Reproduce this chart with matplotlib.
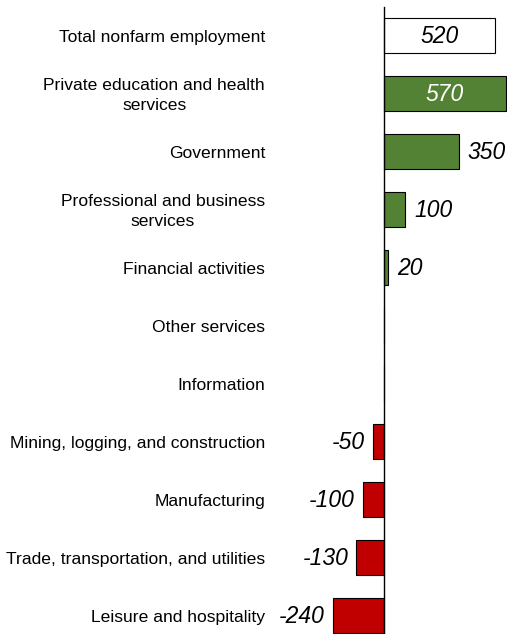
import matplotlib
matplotlib.use('Agg')
import matplotlib.pyplot as plt
from matplotlib.transforms import offset_copy

plt.rcParams['font.family'] = ['Liberation Sans', 'DejaVu Sans']

categories = ['Total nonfarm employment',
              'Private education and health\nservices',
              'Government',
              'Professional and business\nservices',
              'Financial activities',
              'Other services',
              'Information',
              'Mining, logging, and construction',
              'Manufacturing',
              'Trade, transportation, and utilities',
              'Leisure and hospitality']
values = [520, 570, 350, 100, 20, 0, 0, -50, -100, -130, -240]
show_label = [True, True, True, True, True, False, False, True, True, True, True]

green = '#548235'
red = '#C00000'

fig = plt.figure(figsize=(5.07, 6.34), dpi=100)
ax = fig.add_axes([0, 0, 1, 1])

y = list(range(len(values)))
colors = []
for i, v in enumerate(values):
    if i == 0:
        colors.append('white')
    elif v >= 0:
        colors.append(green)
    else:
        colors.append(red)

ax.barh(y, values, height=0.6, color=colors, edgecolor='black', linewidth=0.8, zorder=2)

# x scale: 0 at 384px, 570 at ~505.7px
upp = 570 / 121.7
ax.set_xlim(-384 * upp, (507 - 384) * upp)
# rows 58 px apart, first row centred 35.5 px from the top
ax.set_ylim(10 + 18.5 / 58, -35.5 / 58)
ax.plot([0, 0], [-0.5, 10 + 18.5 / 58], color='black', linewidth=1.0, zorder=3)
ax.axis('off')

# category labels
lab_tr = offset_copy(ax.transData, fig=fig, x=0, y=-2, units='dots')
for i, c in enumerate(categories):
    ax.text(-119 * upp, i, c, ha='right', va='center', multialignment='center',
            fontsize=12.6, color='black', linespacing=1.5, transform=lab_tr)

# value labels
mid_tr = offset_copy(ax.transData, fig=fig, x=0, y=-1, units='dots')
for i, v in enumerate(values):
    if not show_label[i]:
        continue
    if i == 0:
        ax.text(v / 2, i, str(v), ha='center', va='center', fontsize=16.5,
                style='italic', color='black', transform=mid_tr)
    elif i == 1:
        ax.text(v / 2, i, str(v), ha='center', va='center', fontsize=16.5,
                style='italic', color='white', transform=mid_tr)
    elif v > 0:
        tr = offset_copy(ax.transData, fig=fig, x=9, y=-1, units='dots')
        ax.text(v, i, str(v), ha='left', va='center', fontsize=16.5,
                style='italic', color='black', transform=tr)
    else:
        tr = offset_copy(ax.transData, fig=fig, x=-8, y=-1, units='dots')
        ax.text(v, i, str(v), ha='right', va='center', fontsize=16.5,
                style='italic', color='black', transform=tr)

fig.savefig('out.png', dpi=100)
